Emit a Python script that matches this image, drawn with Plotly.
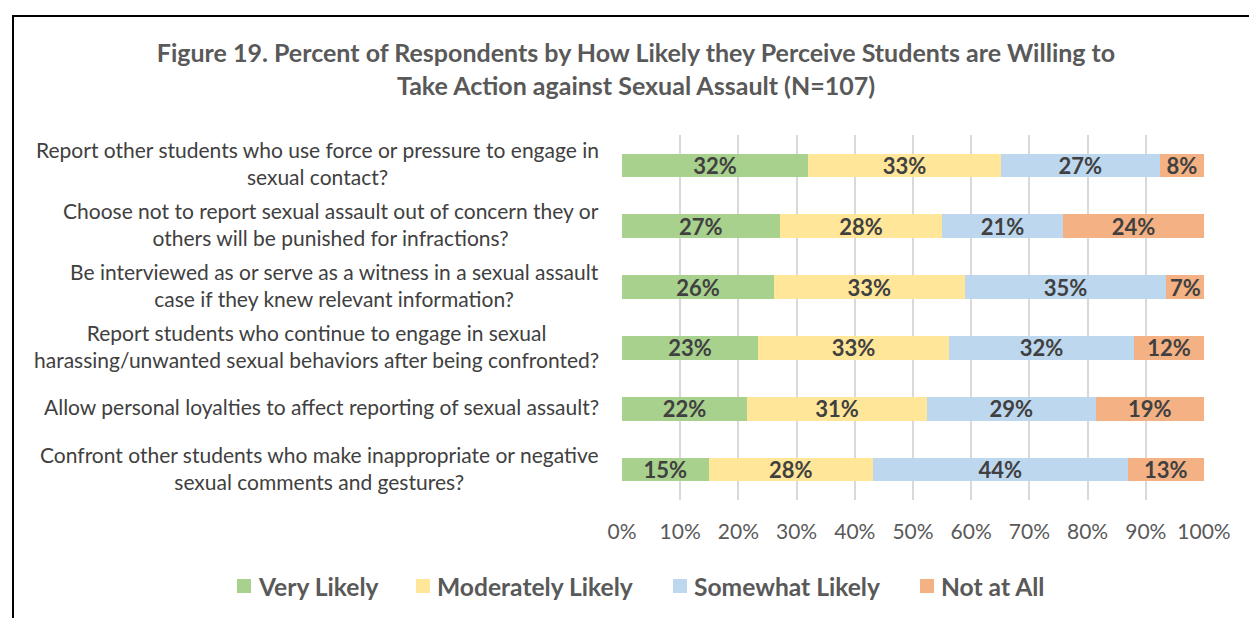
import plotly.graph_objects as go

categories = [
    "Report other students who use force or pressure to engage in<br>sexual contact?",
    "Choose not to report sexual assault out of concern they or<br>others will be punished for infractions?",
    "Be interviewed as or serve as a witness in a sexual assault<br>case if they knew relevant information?",
    "Report students who continue to engage in sexual<br>harassing/unwanted sexual behaviors after being confronted?",
    "Allow personal loyalties to affect reporting of sexual assault?",
    "Confront other students who make inappropriate or negative<br>sexual comments and gestures?",
]
series_names = ["Very Likely", "Moderately Likely", "Somewhat Likely", "Not at All"]
very_likely = [32.0, 27.1, 26.1, 23.4, 21.5, 14.9]
moderately_likely = [33.1, 27.9, 32.8, 32.8, 30.9, 28.2]
somewhat_likely = [27.3, 20.8, 34.6, 31.8, 29.0, 43.8]
not_at_all = [7.6, 24.2, 6.6, 12.0, 18.6, 13.1]
tick_values = [0, 10, 20, 30, 40, 50, 60, 70, 80, 90, 100]
tick_labels = [f"{v}%" for v in tick_values]
colors = ["#A9D18E", "#FFE699", "#BDD7EE", "#F4B183"]

FONT = "Lato"
fig = go.Figure()
for name, vals, col in zip(series_names, [very_likely, moderately_likely, somewhat_likely, not_at_all], colors):
    fig.add_trace(go.Bar(
        y=categories, x=vals, name=name, orientation="h",
        marker=dict(color=col, line=dict(width=0)),
        texttemplate="%{x:.0f}%", textposition="inside", insidetextanchor="middle",
        textangle=0, constraintext="none",
        textfont=dict(family=FONT, size=22, color="#404040", weight="bold"),
        hoverinfo="skip", showlegend=False,
    ))

W, H = 1249, 618
L, R, T, B = 622, 45, 135, 118
pw, ph = W - L - R, H - T - B

def px_to_paper_x(px):
    return (px - L) / pw

def px_to_paper_y(py):
    return (H - B - py) / ph

annotations = []
for c in categories:
    annotations.append(dict(
        x=px_to_paper_x(601), xref="paper", y=c, yref="y",
        text=c, showarrow=False, xanchor="right", yanchor="middle", align="center",
        font=dict(family=FONT, size=21, color="#404040"),
        yshift=2,
    ))

# Manual legend (square swatch + label), laid out in a single row
legend_square_left = [237, 416, 673, 920]
legend_y_center = 586
shapes = []
for name, col, sx in zip(series_names, colors, legend_square_left):
    shapes.append(dict(
        type="rect", xref="paper", yref="paper",
        x0=px_to_paper_x(sx), x1=px_to_paper_x(sx + 14),
        y0=px_to_paper_y(legend_y_center + 7), y1=px_to_paper_y(legend_y_center - 7),
        line=dict(width=0), fillcolor=col,
    ))
    annotations.append(dict(
        x=px_to_paper_x(sx + 19), xref="paper", y=px_to_paper_y(legend_y_center), yref="paper",
        text=name, showarrow=False, xanchor="left", yanchor="middle",
        font=dict(family=FONT, size=24.6, color="#595959", weight="bold"),
    ))

shapes.append(dict(
    type="rect", xref="paper", yref="paper",
    x0=px_to_paper_x(13), x1=px_to_paper_x(1300),
    y0=px_to_paper_y(700), y1=px_to_paper_y(16),
    line=dict(color="black", width=2), fillcolor="rgba(0,0,0,0)", layer="above",
))

fig.update_layout(
    width=W, height=H,
    margin=dict(l=L, r=R, t=T, b=B),
    barmode="stack", bargap=0.61,
    plot_bgcolor="white", paper_bgcolor="white",
    title=dict(
        text="Figure 19. Percent of Respondents by How Likely they Perceive Students are Willing to<br>Take Action against Sexual Assault (N=107)",
        x=636 / W, xref="container", xanchor="center",
        y=1 - 62 / H, yref="container", yanchor="middle",
        font=dict(family=FONT, size=25, color="#595959", weight="bold"),
    ),
    xaxis=dict(
        range=[0, 100], tickvals=tick_values, ticktext=tick_labels,
        showgrid=True, gridcolor="#D9D9D9", gridwidth=1.5, zeroline=False,
        showline=False, ticks="", ticklabelstandoff=17,
        tickfont=dict(family=FONT, size=21, color="#595959"),
    ),
    yaxis=dict(
        categoryorder="array", categoryarray=categories, autorange="reversed",
        showticklabels=False, showgrid=False, zeroline=False, showline=False,
    ),
    annotations=annotations,
    shapes=shapes,
    showlegend=False,
)

fig.write_html("out.html", config={"displayModeBar": False},
               post_script="document.body.style.margin='0';document.body.style.overflow='hidden';")
